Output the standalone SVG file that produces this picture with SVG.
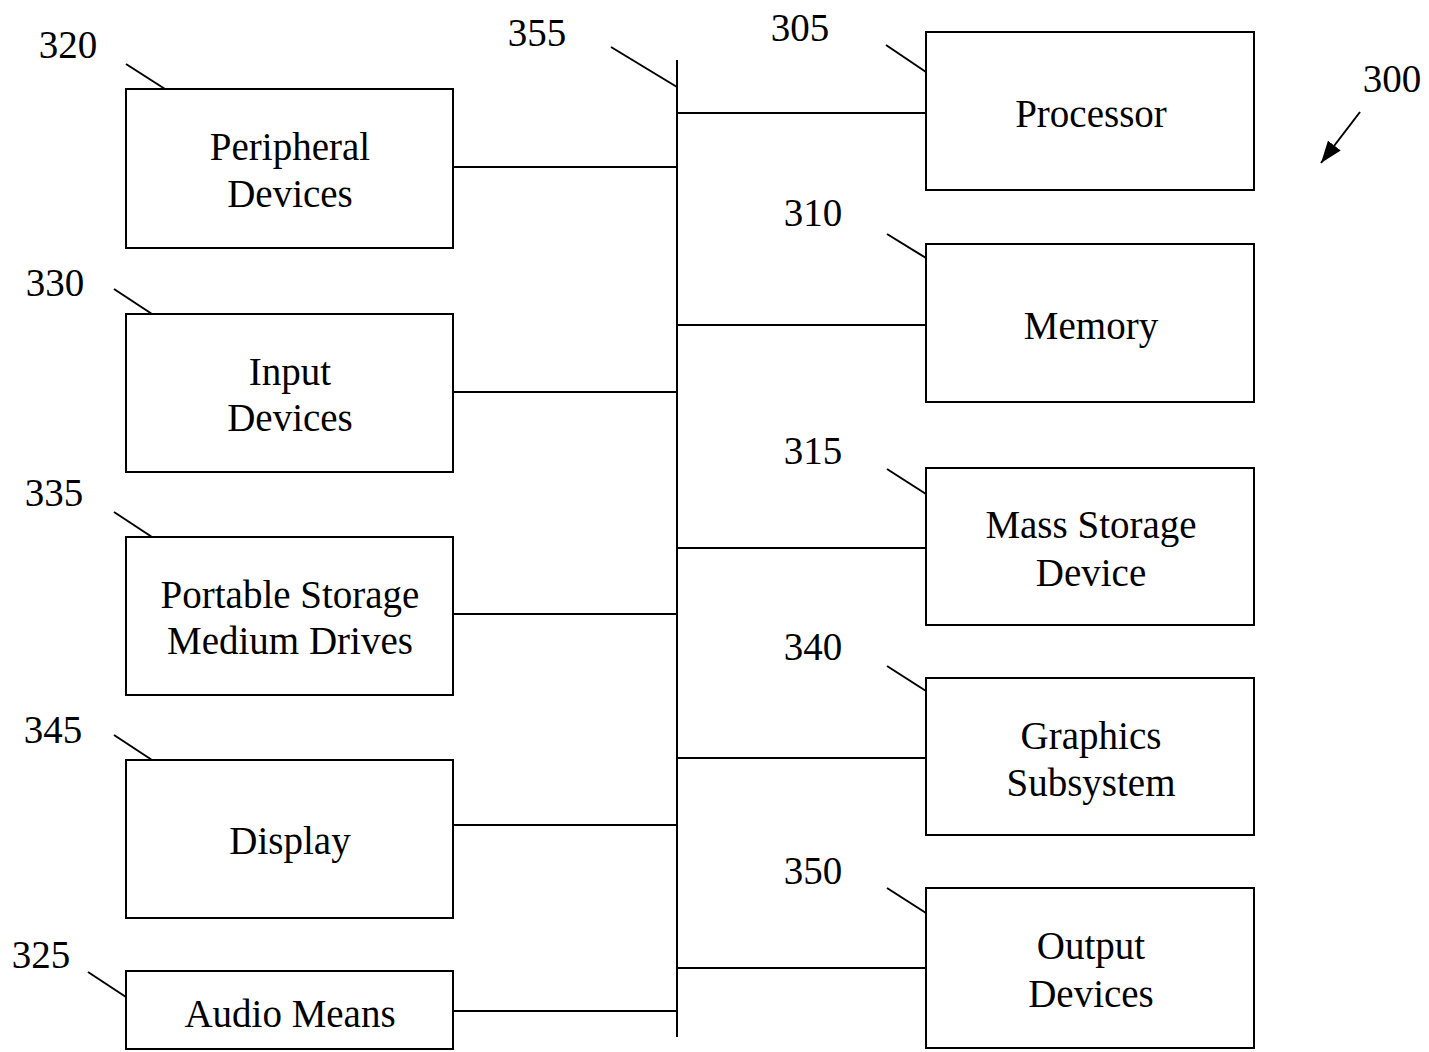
<svg xmlns="http://www.w3.org/2000/svg" width="1429" height="1052" viewBox="0 0 1429 1052">
<style>
.box{fill:#fff;stroke:#000;stroke-width:2}
.ln{stroke:#000;stroke-width:2;fill:none}
.t{font-family:"Liberation Serif","Times New Roman",serif;font-size:39px;fill:#000;text-anchor:middle}
</style>
<defs>
<marker id="ah2" viewBox="0 0 22 16" refX="22" refY="8" markerWidth="22" markerHeight="16" markerUnits="userSpaceOnUse" orient="auto">
<path d="M0,0 L22,8 L0,16 z" fill="#000"/>
</marker>
</defs>
<rect width="1429" height="1052" fill="#fff"/>
<g id="connectors">
<line class="ln" x1="677" y1="60" x2="677" y2="1037"/>
<line class="ln" x1="453" y1="167" x2="677" y2="167"/>
<line class="ln" x1="453" y1="392" x2="677" y2="392"/>
<line class="ln" x1="453" y1="614" x2="677" y2="614"/>
<line class="ln" x1="453" y1="825" x2="677" y2="825"/>
<line class="ln" x1="453" y1="1011" x2="677" y2="1011"/>
<line class="ln" x1="677" y1="113" x2="926" y2="113"/>
<line class="ln" x1="677" y1="325" x2="926" y2="325"/>
<line class="ln" x1="677" y1="548" x2="926" y2="548"/>
<line class="ln" x1="677" y1="758" x2="926" y2="758"/>
<line class="ln" x1="677" y1="968" x2="926" y2="968"/>
<line class="ln" x1="611" y1="47" x2="677" y2="87"/>
<line class="ln" x1="126" y1="64" x2="165" y2="89"/>
<line class="ln" x1="114" y1="289" x2="152" y2="314"/>
<line class="ln" x1="114" y1="512" x2="152" y2="537"/>
<line class="ln" x1="114" y1="735" x2="152" y2="760"/>
<line class="ln" x1="88" y1="972" x2="126" y2="997"/>
<line class="ln" x1="886" y1="45" x2="926" y2="72"/>
<line class="ln" x1="887" y1="234" x2="926" y2="258"/>
<line class="ln" x1="887" y1="469" x2="926" y2="494"/>
<line class="ln" x1="887" y1="666" x2="926" y2="691"/>
<line class="ln" x1="887" y1="888" x2="926" y2="913"/>
<line class="ln" x1="1360" y1="112" x2="1321" y2="163" marker-end="url(#ah2)"/>
</g>
<g id="n320"><rect class="box" x="126" y="89" width="327" height="159"/><text class="t" x="290" y="160">Peripheral</text><text class="t" x="290" y="207">Devices</text><text class="t" x="68" y="58">320</text></g>
<g id="n330"><rect class="box" x="126" y="314" width="327" height="158"/><text class="t" x="290" y="385">Input</text><text class="t" x="290" y="431">Devices</text><text class="t" x="55" y="296">330</text></g>
<g id="n335"><rect class="box" x="126" y="537" width="327" height="158"/><text class="t" x="290" y="608">Portable Storage</text><text class="t" x="290" y="654">Medium Drives</text><text class="t" x="54" y="506">335</text></g>
<g id="n345"><rect class="box" x="126" y="760" width="327" height="158"/><text class="t" x="290" y="854">Display</text><text class="t" x="53" y="743">345</text></g>
<g id="n325"><rect class="box" x="126" y="971" width="327" height="78"/><text class="t" x="290" y="1027">Audio Means</text><text class="t" x="41" y="968">325</text></g>
<g id="n305"><rect class="box" x="926" y="32" width="328" height="158"/><text class="t" x="1091" y="127">Processor</text><text class="t" x="800" y="41">305</text></g>
<g id="n310"><rect class="box" x="926" y="244" width="328" height="158"/><text class="t" x="1091" y="339">Memory</text><text class="t" x="813" y="226">310</text></g>
<g id="n315"><rect class="box" x="926" y="468" width="328" height="157"/><text class="t" x="1091" y="538">Mass Storage</text><text class="t" x="1091" y="586">Device</text><text class="t" x="813" y="464">315</text></g>
<g id="n340"><rect class="box" x="926" y="678" width="328" height="157"/><text class="t" x="1091" y="749">Graphics</text><text class="t" x="1091" y="796">Subsystem</text><text class="t" x="813" y="660">340</text></g>
<g id="n350"><rect class="box" x="926" y="888" width="328" height="160"/><text class="t" x="1091" y="959">Output</text><text class="t" x="1091" y="1007">Devices</text><text class="t" x="813" y="884">350</text></g>
<g id="labels"><text class="t" x="537" y="46">355</text><text class="t" x="1392" y="92">300</text></g>
</svg>
